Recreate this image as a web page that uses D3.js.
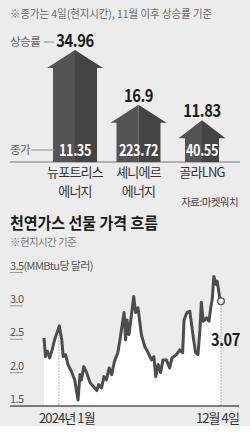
<!DOCTYPE html>
<html>
<head>
<meta charset="utf-8">
<script src="https://cdn.jsdelivr.net/npm/d3@7"></script>
<style>
  html, body { margin: 0; padding: 0; background: #fff; }
  svg { display: block; font-family: "Noto Sans CJK KR", "Noto Sans", sans-serif; }
</style>
</head>
<body>
<div id="chart"></div>
<script>
// LNG stocks: rise since November (%) and close price on the 4th (USD)
var stockNames = ["뉴포트리스\n에너지", "셰니에르\n에너지", "골라LNG"];
var riseRates = [34.96, 16.9, 11.83];
var closePrices = ["11.35", "223.72", "40.55"];

// Natural gas futures (USD per MMBtu)
var gasDates = [
  "2023-12-01", "2023-12-04", "2023-12-08", "2023-12-13", "2023-12-18", "2023-12-23",
  "2024-01-02", "2024-01-07", "2024-01-10", "2024-01-15", "2024-01-20", "2024-01-27",
  "2024-02-03", "2024-02-10", "2024-02-14", "2024-02-17", "2024-02-22", "2024-02-28",
  "2024-03-06", "2024-03-13", "2024-03-20", "2024-03-24", "2024-03-30", "2024-04-04",
  "2024-04-09", "2024-04-15", "2024-04-20", "2024-04-26", "2024-05-03", "2024-05-08",
  "2024-05-12", "2024-05-16", "2024-05-19", "2024-05-22", "2024-05-26", "2024-05-31",
  "2024-06-05", "2024-06-09", "2024-06-14", "2024-06-21", "2024-06-28", "2024-07-05",
  "2024-07-12", "2024-07-17", "2024-07-21", "2024-07-26", "2024-07-31", "2024-08-05",
  "2024-08-12", "2024-08-19", "2024-08-24", "2024-09-02", "2024-09-09", "2024-09-15",
  "2024-09-18", "2024-09-24", "2024-09-30", "2024-10-07", "2024-10-12", "2024-10-17",
  "2024-10-21", "2024-10-24", "2024-10-28", "2024-11-04", "2024-11-09", "2024-11-12",
  "2024-11-16", "2024-11-19", "2024-11-24", "2024-11-26", "2024-12-01", "2024-12-04"
];
var gasPrices = [
  2.52, 2.24, 2.32, 2.22, 2.34, 2.49,
  2.70, 2.49, 2.24, 2.27, 2.12, 2.02,
  1.89, 1.59, 1.97, 1.89, 2.09, 2.00,
  1.85, 1.79, 1.73, 1.82, 1.77, 1.94,
  1.89, 2.07, 1.97, 2.17, 2.30, 2.52,
  2.72, 2.90, 2.49, 2.79, 2.57, 2.84,
  3.14, 2.90, 2.97, 2.57, 2.39, 2.30,
  2.19, 2.24, 1.94, 2.12, 2.00, 2.19,
  2.19, 2.07, 2.22, 2.27, 2.34, 2.30,
  2.79, 2.90, 2.92, 2.54, 2.30, 2.27,
  2.64, 3.05, 2.77, 2.82, 2.77, 2.94,
  3.12, 3.44, 3.32, 3.37, 3.14, 3.07
];
var yTicks = [1.5, 2.0, 2.5, 3.0, 3.5];
var yTickLabels = ["1.5", "2.0", "2.5", "3.0", "3.5(MMBtu당 달러)"];
var xMarkDates = ["2024-01-01", "2024-12-04"];
var xMarkLabels = ["2024년 1월", "12월 4일"];

var W = 250, H = 444;
var bg = "#ececec";
var parse = d3.timeParse("%Y-%m-%d");

var svg = d3.select("#chart").append("svg")
    .attr("width", W).attr("height", H);

svg.append("rect").attr("width", W).attr("height", H).attr("fill", "#fff");
svg.append("rect").attr("width", W).attr("height", 426).attr("fill", bg);

// narrow (condensed-looking) number text
function narrowText(sel, cx, cy, sx) {
    return sel.attr("transform", function(d, i) {
        return "translate(" + cx(d, i) + "," + cy(d, i) + ") scale(" + sx + ",1)";
    });
}

// ---------- top: arrows ----------
svg.append("text")
    .attr("x", 10).attr("y", 18)
    .attr("font-size", 11).attr("fill", "#6a6a6a")
    .attr("textLength", 202).attr("lengthAdjust", "spacingAndGlyphs")
    .text("※종가는 4일(현지시간), 11월 이후 상승률 기준");

var baseY = 162;
var xBar = d3.scalePoint().domain(d3.range(stockNames.length)).range([75, 202]);
var yBar = d3.scaleLinear().domain([0, 35]).range([156, 50]);
var headH = 18;

svg.append("line")
    .attr("x1", 10).attr("x2", 240)
    .attr("y1", baseY).attr("y2", baseY)
    .attr("stroke", "#777").attr("stroke-width", 1);

var arrows = svg.selectAll(".arrow")
    .data(riseRates).enter()
    .append("g").attr("class", "arrow");

function halfArrow(i, v, side) {
    var cx = xBar(i);
    var sw = (i < 2 ? 22 : 17) * side;
    var hw = (i < 2 ? 28 : 23.5) * side;
    var top = yBar(v);
    return "M" + cx + "," + baseY +
        "L" + (cx + sw) + "," + baseY +
        "L" + (cx + sw) + "," + (top + headH) +
        "L" + (cx + hw) + "," + (top + headH) +
        "L" + cx + "," + top + "Z";
}

arrows.append("path")
    .attr("d", function(d, i) { return halfArrow(i, d, -1); })
    .attr("fill", "#545454");
arrows.append("path")
    .attr("d", function(d, i) { return halfArrow(i, d, 1); })
    .attr("fill", "#444");

narrowText(arrows.append("text"),
        function(d, i) { return xBar(i); },
        function(d) { return yBar(d) - 3; }, 0.84)
    .attr("text-anchor", "middle")
    .attr("font-size", 17.5).attr("font-weight", "bold").attr("fill", "#1a1a1a")
    .attr("letter-spacing", -0.5)
    .text(function(d) { return d; });

narrowText(arrows.append("text"),
        function(d, i) { return xBar(i); },
        function() { return 156; }, 0.82)
    .attr("text-anchor", "middle")
    .attr("font-size", 15.5).attr("font-weight", "bold").attr("fill", "#fff")
    .attr("letter-spacing", -0.5)
    .text(function(d, i) { return closePrices[i]; });

arrows.append("text")
    .attr("text-anchor", "middle")
    .attr("font-size", 13).attr("fill", "#333")
    .attr("letter-spacing", -0.8)
    .selectAll("tspan")
    .data(function(d, i) {
        return stockNames[i].split("\n").map(function(s) { return {s: s, i: i}; });
    }).enter()
    .append("tspan")
        .attr("x", function(d) { return xBar(d.i); })
        .attr("y", function(d, j) { return 177 + j * 19; })
        .text(function(d) { return d.s; });

// side labels
svg.append("text").attr("x", 10).attr("y", 46)
    .attr("font-size", 11.5).attr("fill", "#666").attr("letter-spacing", -0.5)
    .text("상승률");
svg.append("line").attr("x1", 44).attr("x2", 54).attr("y1", 42).attr("y2", 42)
    .attr("stroke", "#888").attr("stroke-width", 1);
svg.append("text").attr("x", 10).attr("y", 154)
    .attr("font-size", 11.5).attr("fill", "#666").attr("letter-spacing", -0.5)
    .text("종가");
svg.append("line").attr("x1", 31).attr("x2", 55).attr("y1", 150).attr("y2", 150)
    .attr("stroke", "#888").attr("stroke-width", 1);

svg.append("text").attr("x", 238).attr("y", 206)
    .attr("text-anchor", "end")
    .attr("font-size", 10.5).attr("fill", "#444").attr("letter-spacing", -0.6)
    .text("자료:마켓워치");

// ---------- bottom: gas futures ----------
svg.append("text").attr("x", 10).attr("y", 229)
    .attr("font-size", 15.5).attr("font-weight", "bold").attr("fill", "#1a1a1a")
    .attr("textLength", 148).attr("lengthAdjust", "spacingAndGlyphs")
    .text("천연가스 선물 가격 흐름");
svg.append("text").attr("x", 10).attr("y", 246)
    .attr("font-size", 10.5).attr("fill", "#777").attr("letter-spacing", -0.6)
    .text("※현지시간 기준");

var data = gasDates.map(function(d, i) { return {date: parse(d), v: gasPrices[i]}; });

var x = d3.scaleTime()
    .domain([parse("2023-12-01"), parse("2024-12-04")])
    .range([44, 221]);
var y = d3.scaleLinear().domain([1.5, 3.5]).range([406, 272.5]);

// white area under the line
svg.append("path")
    .datum(data)
    .attr("fill", "#fff")
    .attr("d", d3.area()
        .x(function(d) { return x(d.date); })
        .y0(y(1.5))
        .y1(function(d) { return y(d.v); }));

// y tick labels with short underlines
var yAx = svg.append("g").attr("class", "y-axis");
yAx.selectAll("text")
    .data(yTicks).enter()
    .append("text")
        .attr("x", 10)
        .attr("y", function(d) { return y(d) - 3; })
        .attr("font-size", 11).attr("fill", "#555").attr("letter-spacing", -0.6)
        .text(function(d, i) { return yTickLabels[i]; });
yAx.selectAll("line")
    .data(yTicks.filter(function(d) { return d > 1.5; })).enter()
    .append("line")
        .attr("x1", 10).attr("x2", 23)
        .attr("y1", function(d) { return y(d); })
        .attr("y2", function(d) { return y(d); })
        .attr("stroke", "#999").attr("stroke-width", 1);

// dotted markers
var interp = function(dt) {
    var i = d3.bisector(function(d) { return d.date; }).left(data, dt);
    if (i <= 0) return data[0].v;
    if (i >= data.length) return data[data.length - 1].v;
    var a = data[i - 1], b = data[i];
    var t = (dt - a.date) / (b.date - a.date);
    return a.v + (b.v - a.v) * t;
};
xMarkDates.forEach(function(s) {
    var dt = parse(s);
    svg.append("line")
        .attr("x1", x(dt)).attr("x2", x(dt))
        .attr("y1", y(interp(dt)) + 4).attr("y2", y(1.5))
        .attr("stroke", "#888").attr("stroke-width", 0.8)
        .attr("stroke-dasharray", "1.5,1.5");
});

svg.append("path")
    .datum(data)
    .attr("fill", "none")
    .attr("stroke", "#4d4d4d")
    .attr("stroke-width", 3)
    .attr("stroke-linejoin", "round")
    .attr("d", d3.line()
        .x(function(d) { return x(d.date); })
        .y(function(d) { return y(d.v); }));

// x axis line
svg.append("line")
    .attr("x1", 10).attr("x2", 239)
    .attr("y1", y(1.5)).attr("y2", y(1.5))
    .attr("stroke", "#555").attr("stroke-width", 1.5);

svg.selectAll(".xlab")
    .data(xMarkDates).enter()
    .append("text")
        .attr("class", "xlab")
        .attr("x", function(d, i) { return i === 0 ? x(parse(d)) + 8 : 239; })
        .attr("y", 423)
        .attr("text-anchor", function(d, i) { return i === 0 ? "middle" : "end"; })
        .attr("font-size", 13).attr("fill", "#333").attr("letter-spacing", -0.9)
        .text(function(d, i) { return xMarkLabels[i]; });

// end point
var last = data[data.length - 1];
svg.append("circle")
    .attr("cx", x(last.date)).attr("cy", y(last.v))
    .attr("r", 3.3)
    .attr("fill", "#fff").attr("stroke", "#555").attr("stroke-width", 1.4);
narrowText(svg.append("text"),
        function() { return 240; }, function() { return 346; }, 0.86)
    .attr("text-anchor", "end")
    .attr("font-size", 17).attr("font-weight", "bold").attr("fill", "#1a1a1a")
    .attr("letter-spacing", -0.5)
    .text(last.v.toFixed(2));
</script>
</body>
</html>
